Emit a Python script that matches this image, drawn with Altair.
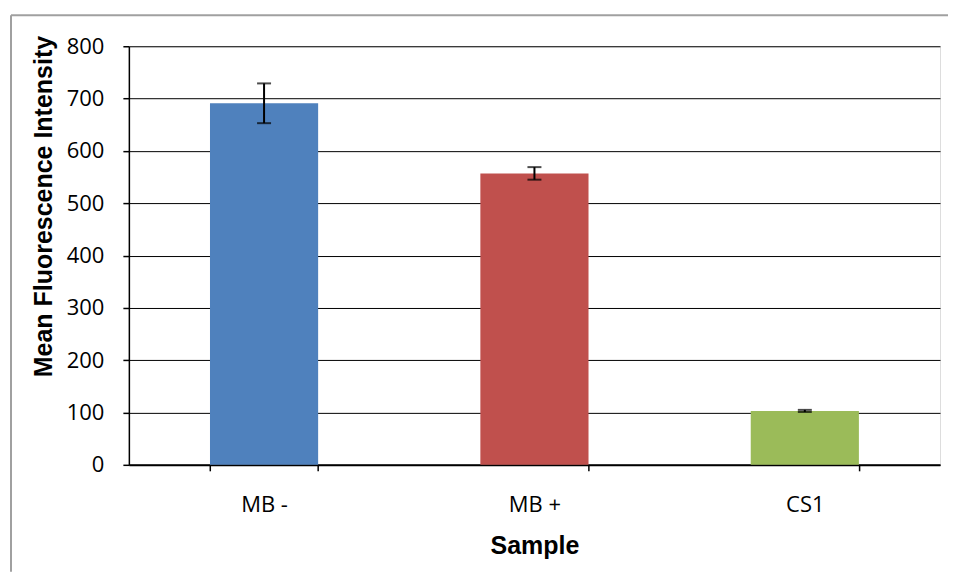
import altair as alt
import pandas as pd

samples = ["MB -", "MB +", "CS1"]
means = [691, 557, 103]
errors = [38, 12, 2]
colors = ["#4F81BD", "#C0504D", "#9BBB59"]
y_ticks = [0, 100, 200, 300, 400, 500, 600, 700, 800]

df = pd.DataFrame({"Sample": samples, "Mean": means, "Err": errors, "Color": colors})
df["lo"] = df["Mean"] - df["Err"]
df["hi"] = df["Mean"] + df["Err"]

label_font = "Open Sans"
title_font = "Liberation Sans"

x_enc = alt.X(
    "Sample:N",
    sort=samples,
    scale=alt.Scale(paddingInner=0.6, paddingOuter=0.3),
    axis=alt.Axis(
        title="Sample", labelAngle=0, tickBand="extent", grid=False,
        domainColor="black", domainWidth=2, tickColor="black", tickWidth=1.5, tickSize=6,
        labelFont=label_font, labelFontSize=22, labelColor="black", labelPadding=24,
        titleFont=title_font, titleFontSize=25, titleFontWeight="bold", titleColor="black",
        titlePadding=18,
    ),
)

y_scale = alt.Scale(domain=[0, 800], nice=False)

bars = alt.Chart(df).mark_bar().encode(
    x=x_enc,
    y=alt.Y(
        "Mean:Q", scale=y_scale,
        axis=alt.Axis(
            title="Mean Fluorescence Intensity", values=y_ticks, grid=True,
            gridColor="black", gridWidth=1, gridOpacity=1,
            domainColor="black", domainWidth=1.5, tickColor="black", tickWidth=1.5, tickSize=6,
            labelFont=label_font, labelFontSize=22, labelColor="black", labelPadding=19,
            titleFont=title_font, titleFontSize=25, titleFontWeight="bold", titleColor="black",
            titlePadding=10, titleY=160,
        ),
    ),
    color=alt.Color("Color:N", scale=None, legend=None),
)

err = alt.Chart(df).mark_rule(color="black", strokeWidth=2).encode(
    x=alt.X("Sample:N", sort=samples),
    y=alt.Y("lo:Q", scale=y_scale),
    y2="hi:Q",
)

cap_lo = alt.Chart(df).mark_tick(color="black", thickness=2, size=14).encode(
    x=alt.X("Sample:N", sort=samples),
    y=alt.Y("lo:Q", scale=y_scale),
)
cap_hi = alt.Chart(df).mark_tick(color="black", thickness=2, size=14).encode(
    x=alt.X("Sample:N", sort=samples),
    y=alt.Y("hi:Q", scale=y_scale),
)

frame_df = pd.DataFrame({"f": [0]})
border_top = alt.Chart(frame_df).mark_rule(color="#A0A0A0", strokeWidth=2).encode(
    x=alt.value(-118), x2=alt.value(820), y=alt.value(-31)
)
border_left = alt.Chart(frame_df).mark_rule(color="#A0A0A0", strokeWidth=2).encode(
    x=alt.value(-118), y=alt.value(-31), y2=alt.value(526)
)

chart = alt.layer(bars, err, cap_lo, cap_hi, border_top, border_left).properties(
    width=812, height=419, padding={"left": 2, "top": 6, "right": 0, "bottom": 0}
).configure_view(stroke=None).configure(background="white")

chart.save("out.html", embed_options={"renderer": "svg", "actions": False})
